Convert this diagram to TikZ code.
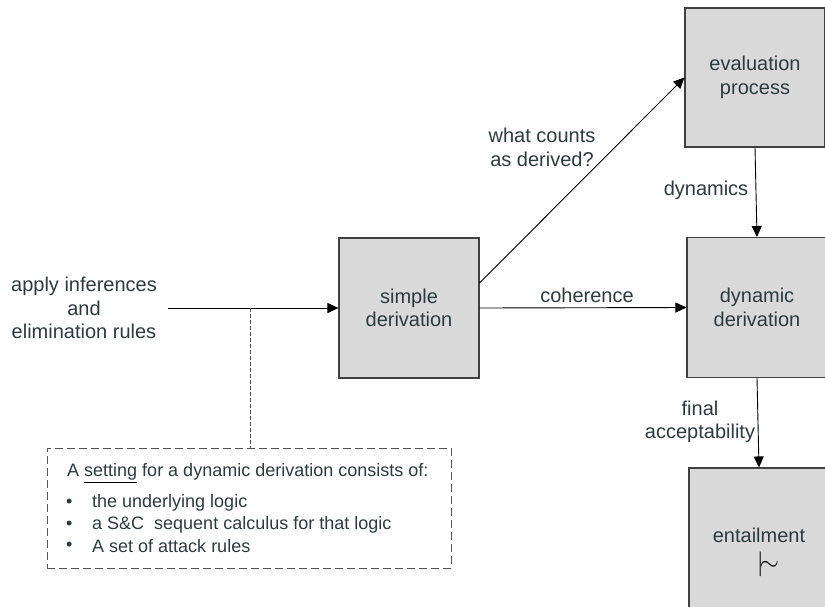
\documentclass[tikz,border=0pt]{standalone}
\usepackage{fontspec}
\setmainfont{Liberation Sans}
\usetikzlibrary{arrows.meta}
\definecolor{txt}{RGB}{45,58,62}
\definecolor{boxfill}{RGB}{217,217,217}
\definecolor{boxline}{RGB}{64,64,64}
\definecolor{dashc}{RGB}{85,85,85}
\begin{document}
\begin{tikzpicture}[x=1pt,y=-1pt,
  procbox/.style={draw=boxline, line width=1.1pt, fill=boxfill, minimum width=140pt, minimum height=140pt, inner sep=0pt, text=txt, align=center, font=\fontsize{20}{23.5}\selectfont},
  lbl/.style={text=txt, align=center, font=\fontsize{20}{23.5}\selectfont, inner sep=0pt},
  arr/.style={-{Triangle[length=11pt,width=10pt]}, line width=0.9pt, black},
  small/.style={text=txt, font=\fontsize{18}{21}\selectfont, inner sep=0pt, anchor=west},
  dashbox/.style={draw=dashc, line width=1pt, dash pattern=on 8pt off 4pt, minimum width=404pt, minimum height=120pt, inner sep=0pt},
  dashlink/.style={draw=dashc, line width=0.8pt, dash pattern=on 4pt off 2pt}]
\useasboundingbox (0,0) rectangle (825,606);
\clip (0,0) rectangle (825,606);

% boxes
\node[procbox] (simple) at (409,308) {simple\\derivation};
\node[procbox, minimum height=139pt] (eval) at (755,77.5) {evaluation\\process};
\node[procbox] (dyn) at (757,307.5) {dynamic\\derivation};
\node[procbox, minimum height=170pt] (ent) at (759,553) {};
\node[lbl] (entt) at (759,535) {entailment};
\node[inner sep=0pt, font=\fontsize{23}{23}\selectfont] (turn) at (768,564) {$\vert\mkern-8mu\sim$};

% input
\node[lbl] (apply) at (84,308) {apply inferences\\and\\elimination rules};
\coordinate (start) at (168,308);
\coordinate (branch) at (250,308);
\draw[arr] (start) -- (simple.west);

% setting box
\node[dashbox] (setbox) at (249,508) {};
\draw[dashlink] (branch) -- (branch |- setbox.north);
\node[small] (s0) at (67,473) {A {\color{black}\underline{\color{txt}setting}} for a dynamic derivation consists of:};
\node[small] (b1) at (66,503) {•};
\node[small] (t1) at (92,503) {the underlying logic};
\node[small] (b2) at (66,525) {•};
\node[small] (t2) at (92,525) {a S\&C\ \ sequent calculus for that logic};
\node[small] (b3) at (66,546) {•};
\node[small] (t3) at (92,546) {A set of attack rules};

% labels
\node[lbl] (what) at (542,147.5) {what counts\\as derived?};
\node[lbl] (coh) at (587,295) {coherence};
\node[lbl] (dynl) at (706,190) {dynamics};
\node[lbl] (fin) at (700,422) {final\\acceptability};

% arrows
\draw[arr] ([yshift=25pt]simple.east) -- (eval.west);
\draw[arr] (simple.east) -- (dyn.west);
\draw[arr] (eval.south) -- (dyn.north);
\draw[arr] (dyn.south) -- (ent.north);
\end{tikzpicture}
\end{document}
